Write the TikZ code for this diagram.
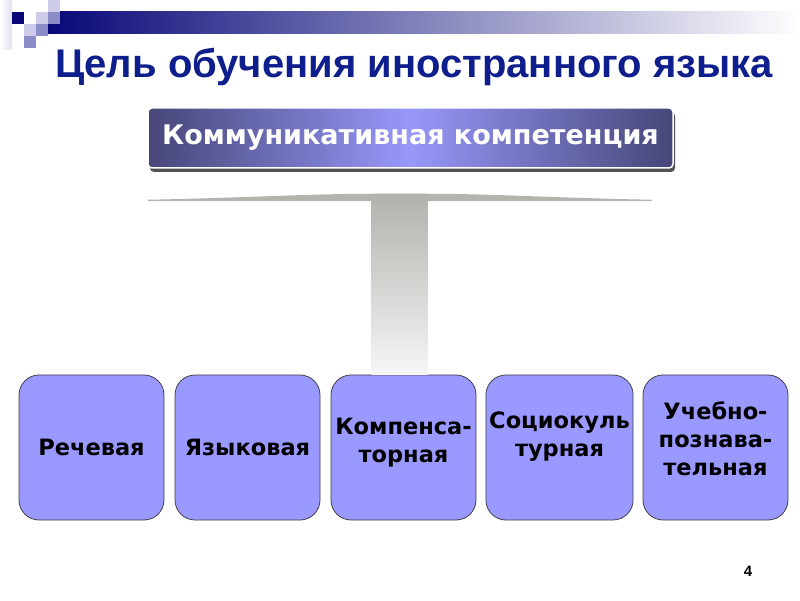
\documentclass[tikz,border=0pt]{standalone}
\usepackage{fontspec}
\setmainfont{Liberation Sans}
\newfontfamily\boxfont{DejaVu Sans}
\usetikzlibrary{calc}
\usetikzlibrary{shadows}
\definecolor{titleblue}{RGB}{14,30,140}
\definecolor{barnavy}{RGB}{8,8,120}
\definecolor{sqlight}{RGB}{204,204,234}
\definecolor{sqmid}{RGB}{140,140,200}
\definecolor{topdark}{RGB}{70,70,120}
\definecolor{toplight}{RGB}{152,152,250}
\definecolor{kindfill}{RGB}{153,153,255}
\definecolor{kindline}{RGB}{64,64,72}
\definecolor{stemtop}{RGB}{178,181,174}
\definecolor{stembot}{RGB}{246,246,246}

\begin{document}
\begin{tikzpicture}[x=1pt,y=1pt,
  level distance=309.5pt,
  level 1/.style={sibling distance=156pt},
  edge from parent/.style={draw=none},
  topbox/.style={rectangle, rounded corners=4pt, draw=white, line width=1.5pt,
    left color=topdark, right color=topdark, middle color=toplight,
    minimum width=525pt, minimum height=60pt, text=white,
    font=\boxfont\bfseries\fontsize{27}{32}\selectfont,
    drop shadow={shadow xshift=2pt, shadow yshift=-4pt, fill=black!80, opacity=0.85}},
  kindbox/.style={rectangle, rounded corners=20pt, draw=kindline, line width=0.8pt,
    fill=kindfill, minimum width=145pt, minimum height=145pt, align=center,
    xshift=-7pt, font=\boxfont\bfseries\fontsize{22.5}{28}\selectfont}]
  \fill[white] (0,0) rectangle (800,600);
  \useasboundingbox (0,0) rectangle (800,600);
  % corner squares and bar
  \shade[left color=white, right color=sqlight!60] (0,600) rectangle (12,550);
  \shade[left color=barnavy, right color=white] (48,588) rectangle (800,566);
  \fill[sqlight] (48,600) rectangle (60,588);
  \fill[barnavy] (12,588) rectangle (24,576);
  \fill[sqlight] (36,588) rectangle (48,576);
  \fill[sqmid] (48,588) rectangle (60,576);
  \fill[sqlight] (24,576) rectangle (36,564);
  \fill[sqmid] (36,576) rectangle (48,564);
  \fill[sqmid] (24,564) rectangle (36,552);
  % title
  \node[anchor=base, text=titleblue, font=\bfseries\fontsize{40}{44}\selectfont]
    (title) at (414,522) {Цель обучения иностранного языка};
  \node[anchor=base, font=\bfseries\fontsize{15}{17}\selectfont] (pagenum) at (748,24) {4};
  % the tree
  \node[topbox] (top) at (410.5,462) {Коммуникативная компетенция}
    child {node[kindbox] (c1) {Речевая}}
    child {node[kindbox] (c2) {Языковая}}
    child {node[kindbox, text depth=14pt] (c3) {Компенса-\\торная}}
    child {node[kindbox, text depth=26pt] (c4) {Социокуль\\турная}}
    child {node[kindbox, text depth=18pt] (c5) {Учебно-\\познава-\\тельная}};
  % connector
  \coordinate (hub) at ($(c3.north |- top.south)+(-4,-31)$);
  \shade[top color=stemtop, bottom color=stembot]
    ($(hub)+(-28,0)$) rectangle ($(c3.north -| hub)+(28,0)$);
  \fill[stemtop] ($(hub)+(-252,0)$) .. controls ($(hub)+(-150,2)$) and ($(hub)+(-90,6)$) .. ($(hub)+(-28,6)$)
    -- ($(hub)+(28,6)$) .. controls ($(hub)+(90,6)$) and ($(hub)+(150,2)$) .. ($(hub)+(252,0)$)
    -- ($(hub)+(252,-1.5)$) -- ($(hub)+(-252,-1.5)$) -- cycle;
\end{tikzpicture}
\end{document}
